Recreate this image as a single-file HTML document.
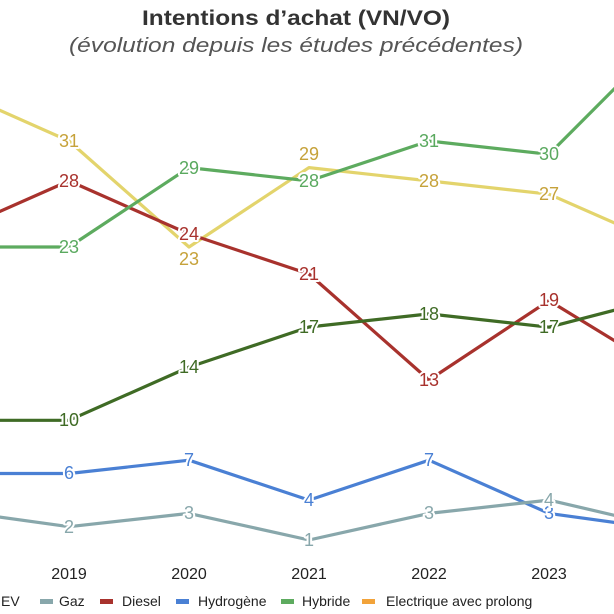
<!DOCTYPE html>
<html><head><meta charset="utf-8"><style>
html,body{margin:0;padding:0;background:#fff;width:614px;height:614px;overflow:hidden}
svg text{font-family:"Liberation Sans",sans-serif}
.l{fill:none;stroke-width:3.2;stroke-linejoin:round}
.v{font-size:18px;text-anchor:middle;dominant-baseline:central;stroke:#fff;stroke-width:4;paint-order:stroke;stroke-linejoin:round}
</style></head><body>
<svg width="614" height="614" viewBox="0 0 614 614" xmlns="http://www.w3.org/2000/svg">
<text x="142" y="25" textLength="308" lengthAdjust="spacingAndGlyphs" font-size="21" font-weight="bold" fill="#333">Intentions d’achat (VN/VO)</text>
<text x="69" y="52" textLength="454" lengthAdjust="spacingAndGlyphs" font-size="20" font-style="italic" fill="#555">(évolution depuis les études précédentes)</text>

<polyline class="l" stroke="#e3d46c" points="-51,87.8 69,141 189,247 309,167.6 429,180.9 549,194.2 669,247"/>
<polyline class="l" stroke="#a8322d" points="-51,234 69,180.9 189,234 309,274 429,380 549,300.6 669,374"/>
<polyline class="l" stroke="#5dab5f" points="-51,247 69,247 189,167.6 309,180.9 429,141 549,154.3 669,34"/>
<polyline class="l" stroke="#3f6b25" points="-51,420.3 69,420.3 189,367.1 309,327 429,313.9 549,327.2 669,296"/>
<polyline class="l" stroke="#4a80d4" points="-51,473.5 69,473.5 189,460.2 309,500.1 429,460.2 549,513.4 669,530"/>
<polyline class="l" stroke="#88a7ab" points="-51,510 69,526.7 189,513.4 309,540 429,513.4 549,500.1 669,528"/>

<g class="v">
<text x="69" y="141" fill="#c6a23a">31</text>
<text x="189" y="259" fill="#c6a23a">23</text>
<text x="309" y="154" fill="#c6a23a">29</text>
<text x="429" y="181" fill="#c6a23a">28</text>
<text x="549" y="194" fill="#c6a23a">27</text>
<text x="69" y="181" fill="#a8322d">28</text>
<text x="189" y="234" fill="#a8322d">24</text>
<text x="309" y="274" fill="#a8322d">21</text>
<text x="429" y="380" fill="#a8322d">13</text>
<text x="549" y="300" fill="#a8322d">19</text>
<text x="69" y="247" fill="#5aa95f">23</text>
<text x="189" y="168" fill="#5aa95f">29</text>
<text x="309" y="181" fill="#5aa95f">28</text>
<text x="429" y="141" fill="#5aa95f">31</text>
<text x="549" y="154" fill="#5aa95f">30</text>
<text x="69" y="420" fill="#3f6b25">10</text>
<text x="189" y="367" fill="#3f6b25">14</text>
<text x="309" y="327" fill="#3f6b25">17</text>
<text x="429" y="314" fill="#3f6b25">18</text>
<text x="549" y="327" fill="#3f6b25">17</text>
<text x="69" y="473" fill="#4a80d4">6</text>
<text x="189" y="460" fill="#4a80d4">7</text>
<text x="309" y="500" fill="#4a80d4">4</text>
<text x="429" y="460" fill="#4a80d4">7</text>
<text x="549" y="513" fill="#4a80d4">3</text>
<text x="69" y="527" fill="#88a7ab">2</text>
<text x="189" y="513" fill="#88a7ab">3</text>
<text x="309" y="540" fill="#88a7ab">1</text>
<text x="429" y="513" fill="#88a7ab">3</text>
<text x="549" y="500" fill="#88a7ab">4</text>
</g>

<g font-size="16" fill="#222" text-anchor="middle">
<text x="69" y="579">2019</text>
<text x="189" y="579">2020</text>
<text x="309" y="579">2021</text>
<text x="429" y="579">2022</text>
<text x="549" y="579">2023</text>
</g>

<g font-size="14" fill="#222">
<text x="1" y="606">EV</text>
<rect x="40" y="599" width="13" height="5" fill="#88a7ab"/><text x="59" y="606">Gaz</text>
<rect x="100" y="599" width="13" height="5" fill="#a8322d"/><text x="122" y="606">Diesel</text>
<rect x="176" y="599" width="13" height="5" fill="#4a80d4"/><text x="198" y="606">Hydrogène</text>
<rect x="281" y="599" width="13" height="5" fill="#5dab5f"/><text x="302" y="606">Hybride</text>
<rect x="362" y="599" width="13" height="5" fill="#f2a33a"/><text x="386" y="606">Electrique avec prolong</text>
</g>
</svg>
</body></html>
